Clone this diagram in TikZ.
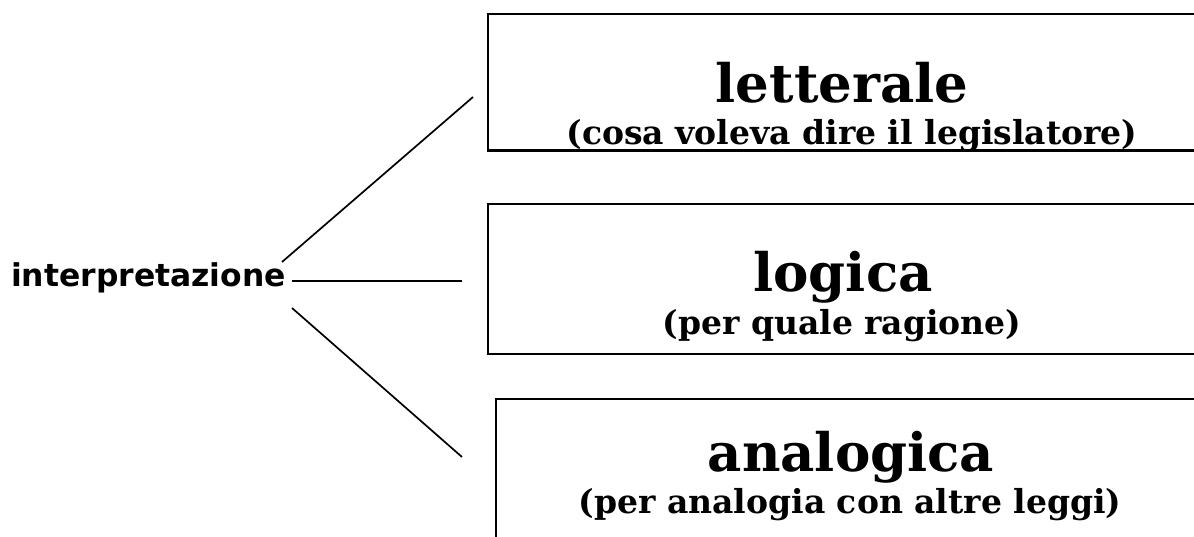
\documentclass[tikz,border=0pt]{standalone}
\usepackage{fontspec}
\setmainfont{DejaVu Serif}
\setsansfont{DejaVu Sans}
\begin{document}
\begin{tikzpicture}[x=1pt,y=-1pt,
  catbox/.style={draw=black,line width=2.3pt,anchor=north west,inner sep=0pt},
  title/.style={font=\fontsize{53}{53}\selectfont\bfseries,anchor=base,inner sep=0pt},
  subtitle/.style={font=\fontsize{33}{33}\selectfont\bfseries,anchor=base,inner sep=0pt},
  root/.style={font=\sffamily\bfseries\fontsize{31.4}{31.4}\selectfont,anchor=base west,inner sep=0pt},
  conn/.style={line width=1.7pt}]
\useasboundingbox (0,0) rectangle (1194,536);
\fill[white] (0,0) rectangle (1194,536);
% boxes
\node[catbox,minimum width=720pt,minimum height=136.5pt] (b1) at (487,12.7) {};
\node[catbox,minimum width=720pt,minimum height=150pt] (b2) at (487,202.5) {};
\node[catbox,minimum width=720pt,minimum height=160pt] (b3) at (495,397.7) {};
% texts
\node[title] (t1) at (842,102) {letterale};
\node[subtitle] (s1) at (852,144) {(cosa voleva dire il legislatore)};
\node[title] (t2) at (843,291) {logica};
\node[subtitle] (s2) at (842,334) {(per quale ragione)};
\node[title] (t3) at (851,471) {analogica};
\node[subtitle] (s3) at (850,513) {(per analogia con altre leggi)};
\node[root] (r) at (11,286) {interpretazione};
% connectors
\coordinate (e1) at (473,97);
\coordinate (e2) at (462,281);
\coordinate (e3) at (462,457);
\coordinate (r1) at (282,262);
\coordinate (r2) at (292,281);
\coordinate (r3) at (292,308);
\draw[conn] (r1) -- (e1);
\draw[conn] (r2) -- (e2);
\draw[conn] (r3) -- (e3);
\end{tikzpicture}
\end{document}
